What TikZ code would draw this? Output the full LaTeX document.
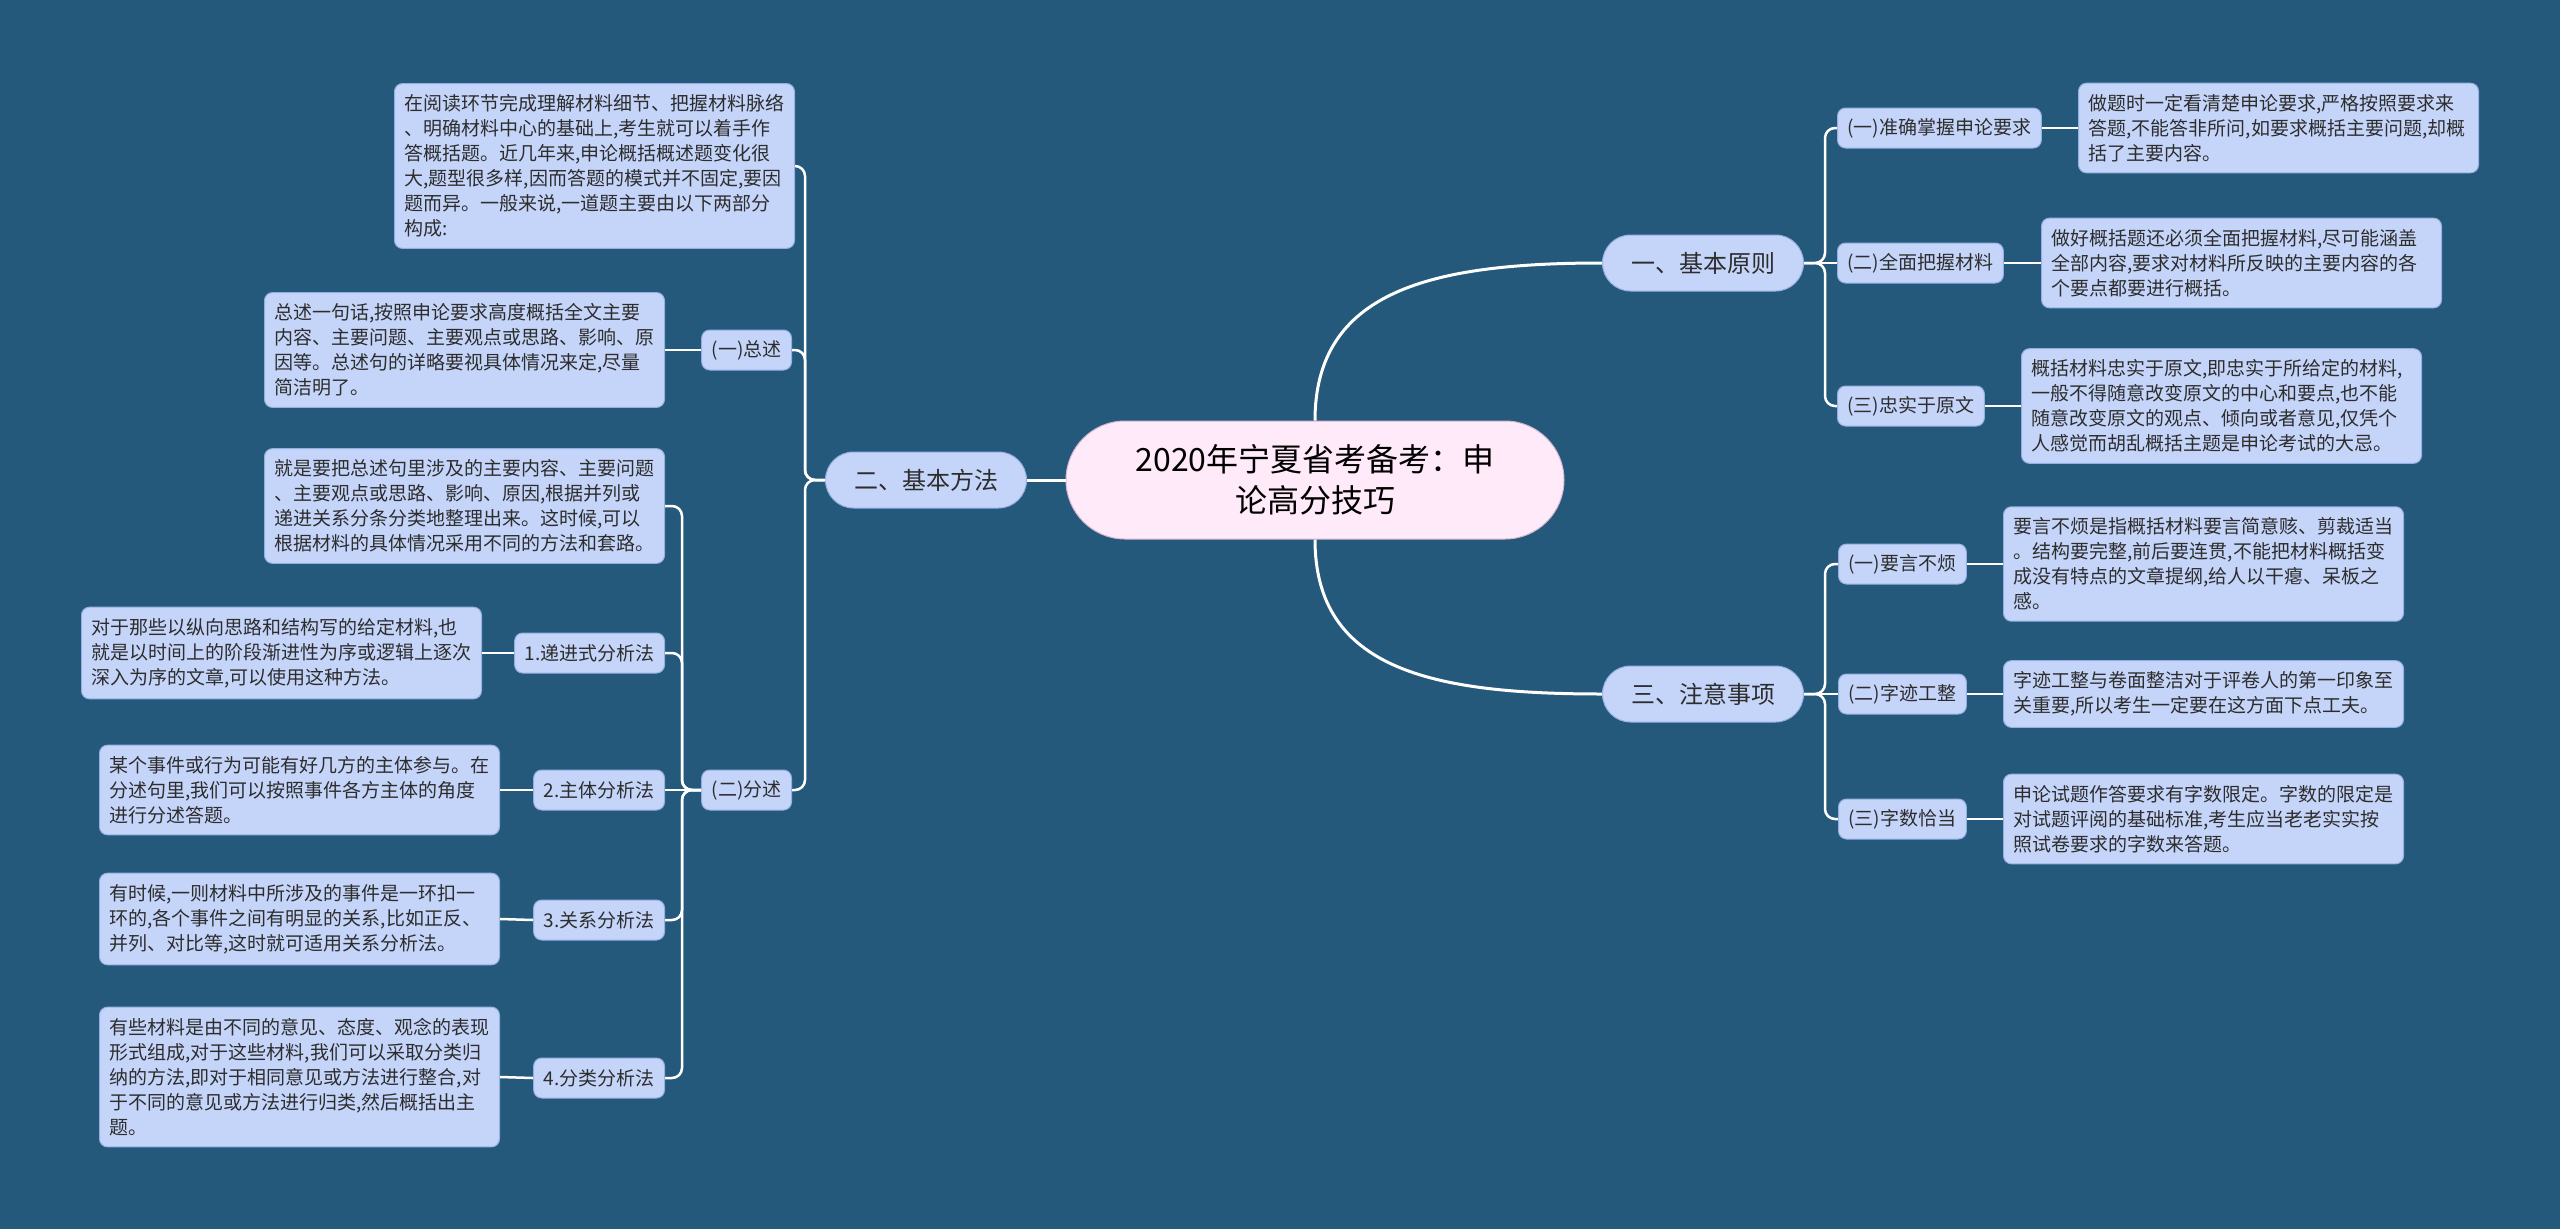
\documentclass[tikz,border=0pt]{standalone}
\usepackage{fontspec}
\setmainfont{Noto Sans CJK SC}
\usepackage{tikz}
\definecolor{bgblue}{RGB}{36,89,124}
\definecolor{leafblue}{RGB}{197,213,250}
\definecolor{leafedge}{RGB}{150,175,225}
\definecolor{rootpink}{RGB}{255,234,249}
\definecolor{rootedge}{RGB}{215,180,210}
\definecolor{txtgray}{RGB}{45,45,45}
\newcommand{\mmleaf}{\fontsize{19}{25}\selectfont}
\newcommand{\mmhead}{\fontsize{24}{30}\selectfont}
\newcommand{\mmroot}{\fontsize{32}{41}\selectfont}
\tikzset{
  box/.style = {align=left, inner sep=0pt, text=txtgray, font=\mmleaf,
    line width=1pt},
  leaf/.style = {box, rectangle, rounded corners=8pt, draw=leafedge,
    fill=leafblue, text width=380pt, inner xsep=10pt, inner ysep=11pt},% long text box
  tag/.style = {box, rectangle, rounded corners=8pt, draw=leafedge,
    fill=leafblue, inner xsep=10pt, minimum height=40pt},% short label
  topic/.style = {box, align=center, rounded corners=28pt, draw=leafedge,
    fill=leafblue, font=\mmhead, minimum width=201pt, minimum height=56pt},% pill
  root/.style = {align=center, inner sep=0pt, rounded corners=59pt,
    draw=rootedge, fill=rootpink, text=black, font=\mmroot, line width=1pt,
    text width=400pt, minimum width=498pt, minimum height=118pt},
  link/.style = {draw=white, line width=2.5pt, rounded corners=10pt}
}

\begin{document}
\begin{tikzpicture}[x=1pt,y=-1pt]
\fill[bgblue] (0,0) rectangle (2560,1229);

% centre and main branches
\node [root] (c) at (1315,480) {2020年宁夏省考备考：申\\论高分技巧};
\node [topic] (b1) at (1703,263) {一、基本原则};
\node [topic] (b2) at (926,480) {二、基本方法};
\node [topic] (b3) at (1703,694) {三、注意事项};

% 一、基本原则
\node [tag, anchor=west] (a11) at (1837,128) {(一)准确掌握申论要求};
\node [tag, anchor=west] (a12) at (1837,263) {(二)全面把握材料};
\node [tag, anchor=west] (a13) at (1837,406) {(三)忠实于原文};
\node [leaf, anchor=west] (l11) at (2078,128) {做题时一定看清楚申论要求,严格按照要求来\\答题,不能答非所问,如要求概括主要问题,却概\\括了主要内容。};
\node [leaf, anchor=west] (l12) at (2041,263) {做好概括题还必须全面把握材料,尽可能涵盖\\全部内容,要求对材料所反映的主要内容的各\\个要点都要进行概括。};
\node [leaf, anchor=west] (l13) at (2021,406) {概括材料忠实于原文,即忠实于所给定的材料,\\一般不得随意改变原文的中心和要点,也不能\\随意改变原文的观点、倾向或者意见,仅凭个\\人感觉而胡乱概括主题是申论考试的大忌。};

% 三、注意事项
\node [tag, anchor=west] (a31) at (1838,564) {(一)要言不烦};
\node [tag, anchor=west] (a32) at (1838,694) {(二)字迹工整};
\node [tag, anchor=west] (a33) at (1838,819) {(三)字数恰当};
\node [leaf, anchor=west] (l31) at (2003,564) {要言不烦是指概括材料要言简意赅、剪裁适当\\。结构要完整,前后要连贯,不能把材料概括变\\成没有特点的文章提纲,给人以干瘪、呆板之\\感。};
\node [leaf, anchor=west] (l32) at (2003,694) {字迹工整与卷面整洁对于评卷人的第一印象至\\关重要,所以考生一定要在这方面下点工夫。};
\node [leaf, anchor=west] (l33) at (2003,819) {申论试题作答要求有字数限定。字数的限定是\\对试题评阅的基础标准,考生应当老老实实按\\照试卷要求的字数来答题。};

% 二、基本方法
\node [leaf, anchor=east] (t20) at (795,166) {在阅读环节完成理解材料细节、把握材料脉络\\、明确材料中心的基础上,考生就可以着手作\\答概括题。近几年来,申论概括概述题变化很\\大,题型很多样,因而答题的模式并不固定,要因\\题而异。一般来说,一道题主要由以下两部分\\构成:};
\node [tag, anchor=east] (a21) at (792,350) {(一)总述};
\node [tag, anchor=east] (a22) at (792,790) {(二)分述};
\node [leaf, anchor=east] (l21) at (665,350) {总述一句话,按照申论要求高度概括全文主要\\内容、主要问题、主要观点或思路、影响、原\\因等。总述句的详略要视具体情况来定,尽量\\简洁明了。};
\node [leaf, anchor=east] (t22) at (665,506) {就是要把总述句里涉及的主要内容、主要问题\\、主要观点或思路、影响、原因,根据并列或\\递进关系分条分类地整理出来。这时候,可以\\根据材料的具体情况采用不同的方法和套路。};
\node [tag, anchor=east] (a221) at (665,653) {1.递进式分析法};
\node [tag, anchor=east] (a222) at (665,790) {2.主体分析法};
\node [tag, anchor=east] (a223) at (665,920) {3.关系分析法};
\node [tag, anchor=east] (a224) at (665,1078) {4.分类分析法};
\node [leaf, anchor=east] (l221) at (482,653) {对于那些以纵向思路和结构写的给定材料,也\\就是以时间上的阶段渐进性为序或逻辑上逐次\\深入为序的文章,可以使用这种方法。};
\node [leaf, anchor=east] (l222) at (500,790) {某个事件或行为可能有好几方的主体参与。在\\分述句里,我们可以按照事件各方主体的角度\\进行分述答题。};
\node [leaf, anchor=east] (l223) at (500,919) {有时候,一则材料中所涉及的事件是一环扣一\\环的,各个事件之间有明显的关系,比如正反、\\并列、对比等,这时就可适用关系分析法。};
\node [leaf, anchor=east] (l224) at (500,1077) {有些材料是由不同的意见、态度、观念的表现\\形式组成,对于这些材料,我们可以采取分类归\\纳的方法,即对于相同意见或方法进行整合,对\\于不同的意见或方法进行归类,然后概括出主\\题。};

% spine points
\coordinate (j1) at (1825,263);
\coordinate (j3) at (1825,694);
\coordinate (j2) at (805,480);
\coordinate (j22) at (682,790);

% connectors
\draw[link, line width=3pt] (c.north) .. controls +(0,-130) and +(-170,0) .. (b1.west);
\draw[link, line width=3pt] (c.south) .. controls +(0,130) and +(-170,0) .. (b3.west);
\draw[link, line width=3pt] (c.west) -- (b2.east);

\draw[link] (b1.east) -- (j1) |- (a11.west);
\draw[link] (b1.east) -- (a12.west);
\draw[link] (b1.east) -- (j1) |- (a13.west);
\draw[link] (a11.east) -- (l11.west);
\draw[link] (a12.east) -- (l12.west);
\draw[link] (a13.east) -- (l13.west);

\draw[link] (b3.east) -- (j3) |- (a31.west);
\draw[link] (b3.east) -- (a32.west);
\draw[link] (b3.east) -- (j3) |- (a33.west);
\draw[link] (a31.east) -- (l31.west);
\draw[link] (a32.east) -- (l32.west);
\draw[link] (a33.east) -- (l33.west);

\draw[link] (b2.west) -- (j2) |- (t20.east);
\draw[link] (b2.west) -- (j2) |- (a21.east);
\draw[link] (b2.west) -- (j2) |- (a22.east);
\draw[link] (a21.west) -- (l21.east);

\draw[link] (a22.west) -- (j22) |- (t22.east);
\draw[link] (a22.west) -- (j22) |- (a221.east);
\draw[link] (a22.west) -- (a222.east);
\draw[link] (a22.west) -- (j22) |- (a223.east);
\draw[link] (a22.west) -- (j22) |- (a224.east);
\draw[link] (a221.west) -- (l221.east);
\draw[link] (a222.west) -- (l222.east);
\draw[link] (a223.west) -- (l223.east);
\draw[link] (a224.west) -- (l224.east);
\end{tikzpicture}
\end{document}
